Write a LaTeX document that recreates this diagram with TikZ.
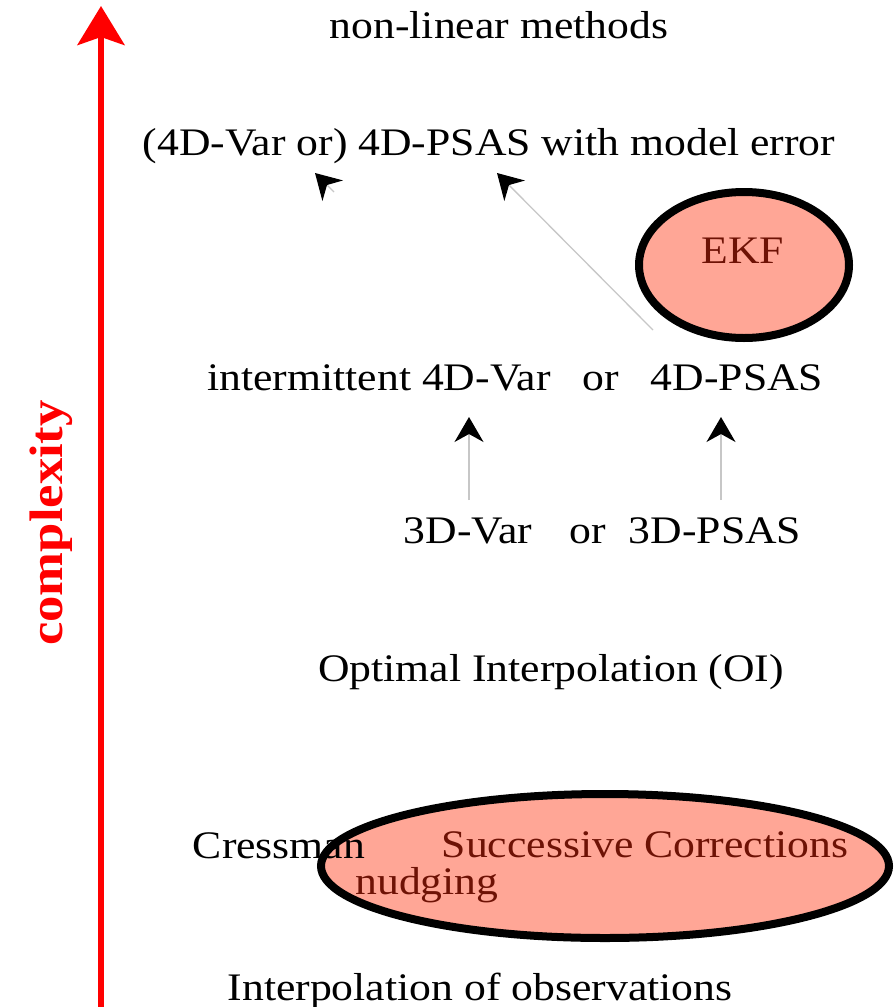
\documentclass[tikz,border=0pt]{standalone}
\usepackage{fontspec}
\setmainfont{Liberation Serif}[FakeStretch=1.12]
\usetikzlibrary{arrows.meta}
\definecolor{salmon}{RGB}{255,166,150}
\definecolor{darkred}{RGB}{110,18,5}
\definecolor{axisred}{RGB}{255,0,0}
\tikzset{
  lbl/.style={anchor=base,inner sep=0pt,font=\fontsize{39}{44}\selectfont},
  redlbl/.style={lbl,text=darkred},
  blob/.style={draw=black,line width=8pt,fill=salmon},
  link/.style={draw=black!22,line width=1.3pt,-{Stealth[length=25pt,width=29pt,inset=8pt,color=black]}},
  axis/.style={draw=axisred,line width=6pt,-{Stealth[length=39pt,width=47pt,inset=8pt]}}
}
\begin{document}
\begin{tikzpicture}[x=1pt,y=-1pt]
\useasboundingbox (0,0) rectangle (895,1007);
% ellipses
\draw[blob] (744,265) ellipse [x radius=105, y radius=73];
\draw[blob] (605,866) ellipse [x radius=284, y radius=72];
% texts
\node[lbl] (nonlin) at (499,38) {non-linear methods};
\node[lbl] (modelerr) at (489,155) {(4D-Var or) 4D-PSAS with model error};
\node[redlbl] (ekf) at (743,263) {EKF};
\node[lbl] (i4dvar) at (379,390) {intermittent 4D-Var};
\node[lbl] (or1) at (601,390) {or};
\node[lbl] (i4dpsas) at (737,390) {4D-PSAS};
\node[lbl] (tdvar) at (468,543) {3D-Var};
\node[lbl] (or2) at (588,543) {or};
\node[lbl] (tdpsas) at (715,543) {3D-PSAS};
\node[lbl] (oi) at (551,681) {Optimal Interpolation (OI)};
\node[lbl] (cress) at (279,858) {Cressman};
\node[redlbl] (succ) at (645,857) {Successive Corrections};
\node[redlbl] (nudg) at (427,894) {nudging};
\node[lbl] (interp) at (480,1000) {Interpolation of observations};
\node[lbl,text=axisred,font=\fontsize{47}{52}\selectfont\bfseries,rotate=90] (cplx) at (62,523) {complexity};
% axis
\coordinate (axbot) at (101,1007);
\coordinate (axtop) at (101,6);
\draw[axis] (axbot) -- (axtop);
% connectors
\coordinate (tipL) at (315,173);
\coordinate (tailL) at (334,192);
\coordinate (tipR) at (497,173);
\coordinate (tailR) at (653,330);
\coordinate (tip3a) at (469,417);
\coordinate (tail3a) at (469,500);
\coordinate (tip3b) at (721,417);
\coordinate (tail3b) at (721,500);
\draw[link] (tailL) -- (tipL);
\draw[link] (tailR) -- (tipR);
\draw[link] (tail3a) -- (tip3a);
\draw[link] (tail3b) -- (tip3b);
\end{tikzpicture}
\end{document}
